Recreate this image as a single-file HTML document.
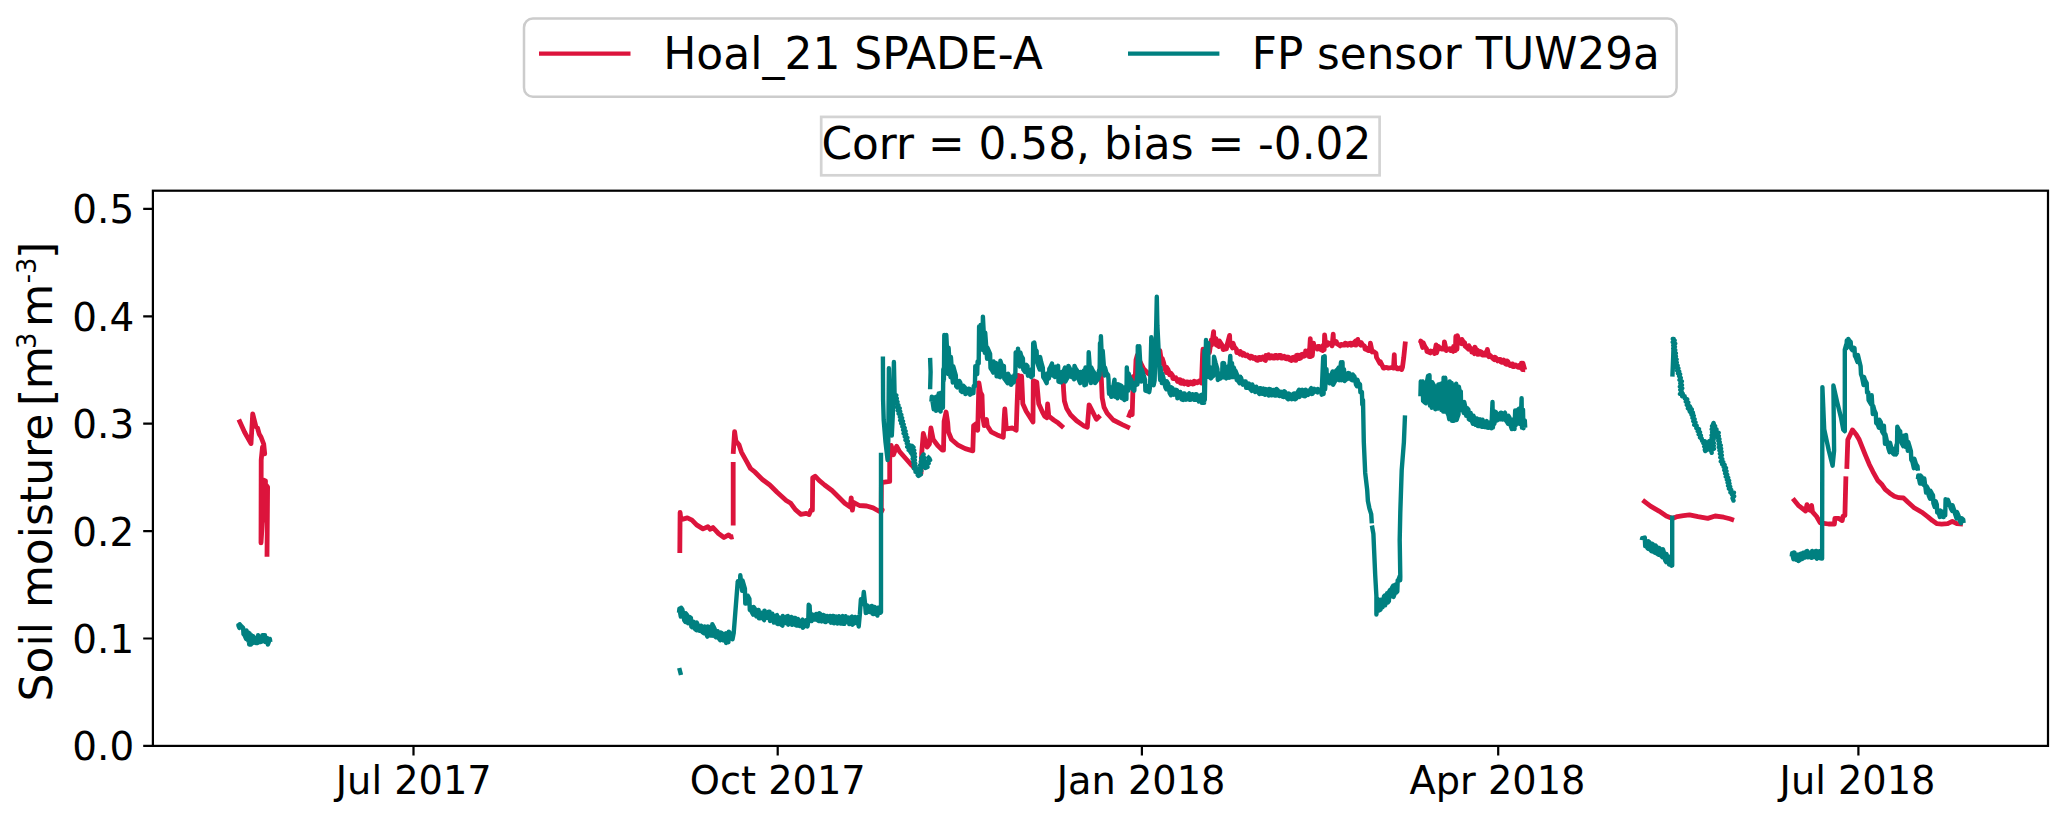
<!DOCTYPE html>
<html lang="en">
<head>
<meta charset="utf-8">
<title>Soil moisture time series</title>
<style>
html,body{margin:0;padding:0;background:#fff;}
body{width:2067px;height:820px;overflow:hidden;}
svg{display:block;}
text{font-family:"DejaVu Sans","Liberation Sans",sans-serif;fill:#000;}
.tk{font-size:38.9px;}
.lg{font-size:44px;}
.sp{stroke:#000;stroke-width:2.22;fill:none;}
.red{stroke:#dc143c;stroke-width:4.8;fill:none;stroke-linejoin:round;stroke-linecap:butt;}
.teal{stroke:#008080;stroke-width:4.4;fill:none;stroke-linejoin:round;stroke-linecap:butt;}
</style>
</head>
<body>
<svg width="2067" height="820" viewBox="0 0 2067 820">
<rect x="0" y="0" width="2067" height="820" fill="#fff"/>

<!-- DATA-START -->
<g id="data" clip-path="url(#axclip)">
<path class="red" d="M238.8 419.6 244.6 432.3 251.0 443.6 252.7 413.8 255.9 426.5 257.5 428.0 259.3 434.3 261.0 437.0 263.7 444.0 264.7 453.8 262.5 447.0 261.2 460.0 261.0 542.9 262.3 523.0 263.2 480.0 265.5 481.0 264.5 520.0 266.0 485.0 267.6 487.0 267.0 556.7 M679.8 553.0 680.1 512.4 680.9 519.8 682.0 519.4 687.4 517.9 692.0 520.1 696.6 524.9 703.0 528.9 707.9 526.7 710.3 529.3 713.0 527.6 718.5 533.5 724.0 537.5 728.6 534.9 731.3 537.1 733.5 536.6 M733.2 525.6 733.2 462.1 M733.2 453.9 734.6 431.6 735.9 441.1 739.0 444.8 741.4 452.1 746.0 460.3 750.5 468.5 755.1 472.2 762.4 479.5 769.8 485.0 777.1 492.3 786.2 500.5 790.8 503.3 795.4 509.7 800.9 514.3 806.3 513.4 809.1 514.6 810.9 510.2 812.4 510.2 812.7 477.7 815.1 476.2 819.1 480.4 824.6 485.0 832.0 490.5 839.3 497.8 844.8 503.3 850.2 507.0 851.2 497.8 852.4 510.2 853.5 502.4 859.4 505.5 866.7 506.0 873.1 507.9 879.5 511.5 882.3 509.7 881.2 512.0 881.4 482.6 884.4 482.1 889.7 481.4 889.7 459.3 891.2 445.5 893.5 454.7 896.6 446.3 899.6 451.6 905.7 458.5 911.8 465.4 917.9 471.5 921.0 473.3 921.7 453.2 923.3 433.4 927.1 447.1 929.4 444.0 930.9 428.0 933.2 439.5 937.7 445.5 942.3 450.1 943.5 450.1 944.1 421.2 946.1 412.0 947.7 422.7 948.4 431.8 951.5 439.5 957.6 444.8 965.2 448.6 972.8 450.9 973.6 425.7 976.6 423.4 977.7 430.3 978.9 383.0 980.4 392.2 982.0 395.2 982.7 416.6 984.2 425.7 986.5 419.6 987.3 425.7 991.1 431.8 997.2 434.9 1003.3 437.2 1004.1 419.6 1004.8 409.0 1006.3 428.8 1012.4 428.0 1016.2 430.3 1017.0 406.7 1018.2 375.5 1019.8 397.6 1020.4 376.2 1021.6 376.2 1022.8 403.7 1026.2 411.3 1033.0 422.0 1033.3 380.8 1036.8 382.3 1038.7 403.7 1043.0 413.2 1044.6 416.2 1046.9 417.7 1047.6 404.0 1048.8 416.2 1053.7 420.0 1058.3 423.1 1063.6 427.7 M1063.2 381.2 1063.6 390.3 1064.4 401.0 1066.7 408.6 1070.5 414.7 1076.6 420.8 1084.2 426.1 1087.3 427.2 1089.1 404.8 1091.8 410.1 1096.4 419.3 1100.2 415.5 M1099.9 375.1 1100.4 364.1 1101.3 378.1 1102.2 397.9 1104.0 407.1 1107.1 413.2 1113.2 420.0 1122.3 424.6 1129.9 428.1 M1128.4 417.7 1130.7 411.6 1132.2 414.7 1133.3 376.6 1135.3 375.8 1136.0 359.8 1137.3 355.2 1140.6 362.9 1143.7 369.0 1148.2 373.5 1152.8 376.6 1154.3 355.2 1155.9 349.1 1159.5 355.7 1159.9 350.7 1161.8 363.3 1162.2 358.3 1163.5 362.3 1165.3 369.7 1166.3 372.4 1166.7 367.5 1168.1 369.8 1169.6 374.9 1171.1 373.4 1172.4 375.1 1172.8 378.5 1174.1 378.5 1175.8 377.8 1177.5 381.4 1178.8 379.7 1180.0 379.6 1180.4 383.1 1182.0 383.4 1183.0 380.7 1184.5 383.9 1186.0 381.8 1187.7 381.9 1188.1 384.6 1189.6 383.8 1190.7 382.0 1192.6 384.0 1193.8 383.9 1194.2 381.2 1196.1 381.7 1197.4 382.8 1199.4 380.8 1201.1 380.4 1201.5 383.1 1202.6 354.1 1203.0 349.2 1204.8 350.1 1205.7 353.2 1207.6 349.3 1209.0 349.2 1209.4 352.6 1211.3 340.0 1211.7 345.0 1213.6 331.6 1214.0 341.9 1215.9 338.5 1216.3 345.0 1217.4 345.4 1218.9 346.5 1219.3 340.8 1221.2 343.7 1222.7 346.1 1223.1 349.6 1224.9 349.0 1226.5 348.8 1226.9 345.3 1227.9 341.8 1229.6 335.4 1230.0 345.0 1231.4 346.0 1232.6 348.0 1233.0 343.1 1234.3 346.7 1236.4 349.2 1236.8 352.6 1238.6 352.6 1239.8 354.1 1240.2 351.4 1242.7 355.1 1243.1 353.2 1244.1 353.7 1245.6 355.8 1247.3 354.9 1248.9 357.0 1250.3 358.1 1250.7 356.2 1252.3 356.6 1253.3 358.4 1255.1 357.5 1256.3 359.9 1257.9 360.4 1258.3 357.7 1259.8 357.4 1260.8 359.5 1262.8 357.1 1263.9 359.4 1265.5 360.4 1265.9 355.4 1266.9 356.1 1268.6 354.7 1269.0 358.1 1270.3 358.0 1271.9 355.9 1273.2 358.1 1274.7 358.1 1275.1 355.4 1276.4 355.5 1277.6 358.1 1279.1 355.5 1280.8 355.4 1281.2 358.1 1282.4 358.2 1284.2 356.3 1285.5 358.7 1286.9 358.9 1287.3 357.0 1288.5 357.2 1289.9 359.8 1291.4 360.4 1291.8 357.7 1293.3 357.2 1294.5 360.1 1296.0 360.4 1296.4 355.4 1298.1 355.1 1299.5 358.6 1300.6 358.1 1301.0 354.7 1302.3 354.2 1303.8 356.3 1305.2 355.8 1305.6 350.9 1307.4 352.1 1308.8 350.1 1309.2 356.6 1310.3 338.7 1310.7 356.6 1311.9 346.3 1312.3 355.8 1313.5 343.2 1314.0 346.7 1315.5 347.1 1317.4 349.0 1317.8 346.3 1319.5 346.4 1321.0 349.8 1322.7 350.5 1323.1 345.5 1324.2 349.7 1324.6 334.9 1325.7 345.2 1326.1 342.5 1327.3 345.2 1327.7 342.5 1329.2 343.4 1331.7 344.8 1332.1 345.9 1333.2 334.1 1333.6 343.6 1334.7 341.0 1335.1 342.1 1336.4 341.7 1336.8 343.6 1338.1 344.3 1340.2 345.9 1340.6 344.8 1341.8 344.3 1343.2 345.1 1344.8 345.2 1345.2 343.2 1346.8 343.5 1347.9 345.1 1349.4 343.4 1350.9 343.2 1351.3 345.2 1352.4 345.0 1354.0 342.7 1355.5 341.0 1355.9 345.2 1357.8 339.4 1358.2 343.6 1359.8 344.3 1360.8 345.2 1361.2 342.5 1362.7 344.9 1364.6 346.3 1365.0 349.0 1366.5 349.6 1368.4 350.5 1368.8 347.8 1370.0 350.5 1370.4 343.2 1372.2 352.0 1372.6 350.9 1373.9 351.8 1376.0 353.2 1376.5 357.4 1378.1 360.1 1379.9 363.5 1380.3 361.5 1381.4 363.9 1382.9 366.9 1383.3 368.0 1384.3 368.0 1385.8 367.4 1387.5 367.6 1387.9 368.0 1389.1 368.0 1391.3 367.6 1393.1 367.6 1393.5 368.0 1394.3 354.7 1394.7 366.5 1395.6 367.6 1396.0 368.0 1396.6 367.6 1397.0 368.8 1398.4 368.9 1400.1 367.9 1401.2 367.6 1401.6 369.6 1402.5 367.1 1403.7 357.9 1405.4 341.5 M1420.4 343.0 1420.8 341.0 1422.7 347.5 1423.1 342.6 1425.0 346.8 1426.5 348.7 1426.9 351.4 1428.5 352.0 1430.3 352.9 1430.7 351.0 1432.9 351.4 1434.1 351.7 1434.5 353.6 1436.1 344.9 1436.5 352.9 1438.7 346.4 1439.1 348.3 1440.6 348.5 1441.7 349.1 1442.1 347.9 1444.0 349.1 1444.4 341.8 1446.3 350.6 1446.7 348.7 1448.0 349.1 1450.1 348.7 1450.5 350.6 1452.1 350.6 1453.2 351.4 1453.6 346.4 1455.4 350.6 1455.8 336.5 1457.0 349.1 1457.4 335.7 1459.3 343.0 1459.7 340.3 1461.5 343.7 1461.9 339.5 1463.4 342.0 1464.6 342.6 1465.0 346.0 1466.3 347.0 1468.4 349.1 1468.8 345.6 1470.1 347.9 1471.4 348.7 1471.8 352.1 1473.4 351.9 1474.5 353.6 1474.9 347.1 1476.3 350.0 1477.5 350.2 1477.9 354.4 1479.4 354.2 1480.6 351.6 1482.1 352.5 1482.5 355.2 1483.9 355.1 1485.9 355.2 1486.3 351.7 1487.0 355.2 1487.4 349.4 1489.0 356.7 1489.4 354.8 1490.6 355.8 1492.8 358.5 1494.3 359.7 1494.7 357.1 1496.1 358.0 1497.6 360.9 1499.3 359.3 1500.4 359.3 1500.8 362.0 1502.1 362.4 1503.8 360.1 1505.4 363.8 1506.5 364.3 1506.9 360.9 1507.9 361.5 1509.9 365.5 1511.5 364.1 1512.6 363.9 1513.0 366.6 1514.3 366.7 1515.8 365.0 1517.6 367.0 1518.7 367.4 1519.1 365.4 1521.0 368.1 1521.4 363.2 1522.5 369.7 1522.9 363.2 1524.8 369.8 1525.2 369.8 M1642.6 500.1 1650.5 506.2 1659.0 511.1 1666.3 516.0 1672.4 518.4 1677.3 516.6 1683.4 515.6 1689.5 514.8 1698.0 516.6 1707.8 518.4 1715.1 516.0 1723.7 517.2 1729.8 518.8 1734.0 520.2 M1792.8 498.6 1798.3 505.3 1805.6 511.0 1807.0 504.6 1808.4 509.1 1809.7 510.1 1811.6 505.5 1812.5 511.9 1816.6 516.5 1820.2 522.9 1823.9 523.3 1828.5 524.0 1834.4 524.0 1834.9 518.3 1838.5 518.3 1842.2 520.6 1843.1 516.0 1844.9 515.5 1845.9 476.4 M1846.8 468.8 1847.8 439.8 1852.4 429.9 1856.2 434.5 1859.3 439.8 1862.3 447.4 1865.4 455.1 1869.2 464.2 1873.0 471.8 1877.6 480.2 1882.1 484.8 1885.2 489.4 1889.8 493.2 1894.3 496.2 1898.9 497.7 1903.5 498.0 1908.0 502.3 1914.1 507.7 1921.8 512.2 1927.9 516.8 1932.4 520.6 1937.0 523.7 1941.6 524.1 1947.7 523.7 1952.3 521.4 1956.8 523.7 1962.9 524.1"/>
<path class="teal" d="M237.9 626.2 238.3 625.2 239.4 628.0 239.8 624.3 241.5 626.3 243.1 627.9 243.5 634.1 244.6 635.4 246.1 639.0 246.5 630.4 248.3 640.8 248.7 632.8 249.2 644.5 249.6 633.4 251.0 644.5 251.4 635.3 252.8 643.0 253.2 636.2 254.3 637.7 256.0 643.0 257.7 643.0 258.1 635.3 259.1 637.1 260.7 642.0 262.0 641.5 262.4 635.3 263.4 635.3 265.0 635.3 265.4 642.1 267.5 638.3 267.9 644.5 269.9 638.9 270.3 642.1 M679.2 668.0 681.0 675.0 M679.0 612.8 679.4 608.7 680.8 616.5 681.2 607.8 682.4 609.5 684.2 620.2 685.4 621.9 685.8 613.3 687.0 614.8 688.1 623.3 689.4 617.0 690.9 617.9 691.3 626.5 692.2 627.2 693.8 621.8 695.0 629.0 696.4 630.2 696.8 622.5 698.0 625.4 699.4 630.8 701.0 625.7 701.9 626.5 702.3 632.0 703.7 633.2 704.6 626.5 706.1 633.6 707.4 636.6 707.8 626.5 708.8 626.9 710.7 635.5 711.9 635.7 712.3 624.3 713.5 626.6 714.7 628.9 715.1 636.6 715.9 637.2 717.7 631.2 718.9 638.4 720.2 640.2 720.6 632.5 721.7 633.0 723.3 640.4 724.3 634.1 725.7 633.4 726.1 643.0 727.2 640.2 728.4 642.1 728.8 631.6 730.6 633.8 732.1 635.3 732.5 639.3 733.7 633.2 737.7 582.0 737.5 585.4 737.9 581.3 739.9 585.4 740.3 575.3 742.1 590.8 742.5 580.4 744.0 585.5 744.9 588.6 745.3 603.6 746.5 603.3 747.8 595.7 749.4 598.7 749.8 610.0 751.0 610.5 753.1 614.6 753.5 606.9 754.8 608.6 756.3 616.4 757.5 610.2 758.6 610.0 759.0 618.3 760.2 618.2 761.8 612.7 762.9 618.4 764.1 620.1 764.5 610.6 765.3 612.2 767.1 617.8 768.6 611.8 769.6 611.8 770.0 621.0 771.1 620.3 772.3 613.6 773.9 622.5 775.3 615.9 776.9 615.1 777.3 623.8 778.2 624.0 779.7 617.6 780.9 624.5 782.4 625.6 782.8 616.0 784.0 618.2 785.5 623.1 786.5 616.5 787.8 616.0 788.2 624.7 789.4 622.8 791.3 616.9 792.2 624.9 793.7 618.0 795.2 617.9 795.6 625.2 796.9 625.6 797.9 618.9 799.7 626.0 801.6 620.6 802.5 619.7 802.9 627.8 804.2 626.5 805.9 620.3 807.1 620.6 807.5 626.5 808.2 622.2 808.7 604.8 809.6 605.7 810.4 620.4 811.6 621.0 812.0 614.2 813.6 615.3 815.0 619.6 816.1 614.0 817.4 620.1 818.9 621.0 819.3 613.3 820.2 613.7 821.7 621.4 823.2 614.9 824.4 615.5 824.8 621.9 825.6 622.1 827.0 615.9 828.2 621.0 829.9 615.9 831.0 622.7 832.4 616.0 833.6 616.0 834.0 623.4 835.3 621.3 836.4 616.6 837.4 623.5 838.9 616.2 840.5 623.6 841.3 618.1 842.7 616.0 843.1 623.8 844.3 623.9 845.6 616.2 846.9 621.9 848.4 617.5 849.3 624.1 850.5 617.9 851.9 616.6 852.3 624.7 853.7 623.6 855.1 616.9 857.1 623.4 858.3 617.0 858.7 626.5 859.8 614.9 860.9 599.3 862.7 603.9 863.8 592.0 864.9 602.1 865.8 613.0 866.5 612.8 866.9 605.1 868.3 606.8 869.7 612.0 870.6 606.3 872.0 606.0 872.4 613.7 873.5 614.1 874.6 607.0 876.1 613.9 877.5 615.5 877.9 607.8 879.4 607.7 880.2 606.9 880.6 612.8 881.0 612.0 881.0 452.8 M882.9 356.4 883.1 400.0 883.7 420.0 885.5 442.0 887.6 460.0 888.3 440.0 888.9 368.3 889.8 410.0 891.8 435.6 892.8 415.0 893.9 362.0 894.6 394.0 893.4 394.3 896.3 395.3 894.2 397.6 896.8 398.6 895.5 400.7 897.5 401.9 896.4 403.9 898.4 405.1 897.0 407.2 899.7 408.3 897.7 410.5 900.2 411.6 898.7 413.7 901.3 414.8 899.9 416.9 902.1 418.0 900.2 420.3 903.0 421.3 901.2 423.5 903.7 424.6 902.4 426.7 904.7 427.9 903.1 430.0 905.6 431.2 903.6 433.4 906.2 434.5 904.8 436.6 907.4 437.7 905.5 440.1 907.8 441.2 906.8 443.3 908.7 444.6 907.2 446.8 910.1 447.8 908.7 450.0 911.0 451.2 911.5 453.6 909.9 451.0 912.3 449.8 911.1 447.3 912.0 445.9 913.5 447.3 911.7 449.1 914.2 450.5 912.3 452.3 914.7 453.7 912.6 455.5 915.0 456.9 912.7 458.8 914.8 460.2 913.3 461.9 915.2 463.4 913.6 465.2 915.6 466.6 913.9 468.4 915.6 469.3 915.5 471.9 918.2 472.2 917.6 475.0 918.5 475.9 920.8 474.4 918.8 472.3 921.2 470.8 919.2 468.8 921.7 467.3 920.0 465.3 922.2 463.8 920.8 461.7 922.7 460.2 921.2 458.2 922.9 456.6 923.6 454.4 922.2 456.6 924.4 457.9 922.8 460.1 925.4 461.3 924.0 463.5 926.3 464.7 924.8 467.0 925.2 468.0 927.5 466.9 926.4 464.6 928.7 463.4 927.7 461.2 930.1 460.0 928.6 457.6 930.1 456.2 M930.1 357.9 930.6 372.0 930.1 389.2 M931.4 401.6 931.8 396.6 933.7 409.2 934.1 397.4 936.0 410.7 936.4 396.6 938.3 410.0 938.7 393.5 940.6 411.5 941.0 392.8 942.9 407.7 943.3 369.2 943.9 380.2 944.3 334.9 945.9 369.6 946.3 334.9 948.2 374.1 948.6 347.8 950.5 377.2 950.9 357.0 952.8 382.5 953.2 366.1 954.6 371.0 955.8 375.3 956.2 386.3 957.3 387.4 959.3 380.9 960.4 382.9 960.8 390.9 962.2 392.0 963.3 385.7 965.0 387.5 965.4 394.0 966.8 393.3 968.4 388.7 969.6 389.0 970.0 394.7 971.7 393.5 973.4 393.2 973.8 385.9 974.9 386.3 975.3 366.1 977.2 374.1 977.6 361.5 978.7 363.5 979.1 326.5 980.2 349.7 980.6 325.0 982.5 349.7 982.9 316.6 984.8 352.8 985.2 332.6 987.1 358.9 987.5 347.8 988.8 350.9 990.1 353.9 990.5 368.0 992.2 370.6 993.2 372.6 993.6 361.5 995.3 365.8 996.2 363.1 996.6 376.4 997.9 375.8 1000.0 377.2 1000.4 360.8 1002.5 367.9 1003.9 366.1 1004.3 378.7 1005.9 380.7 1007.7 383.3 1008.1 373.7 1009.2 377.4 1010.7 376.8 1011.1 384.8 1012.2 383.0 1013.8 382.5 1014.2 375.3 1015.3 377.2 1015.7 352.4 1017.6 365.0 1018.0 348.6 1019.9 366.5 1020.3 352.4 1021.3 356.0 1022.9 358.5 1023.3 369.6 1025.0 372.0 1026.4 364.8 1027.5 366.1 1027.9 375.7 1030.0 375.3 1031.3 377.2 1031.7 369.2 1032.8 375.7 1033.2 343.2 1033.9 358.9 1034.3 342.5 1035.3 349.5 1036.6 350.9 1037.0 361.9 1038.3 365.7 1039.7 369.6 1040.1 357.0 1041.1 361.7 1042.8 367.5 1043.2 377.0 1044.9 379.7 1046.7 383.1 1047.1 373.5 1048.9 378.5 1049.3 369.0 1050.4 367.2 1052.0 363.6 1052.4 375.5 1053.6 373.8 1055.0 377.0 1055.4 366.7 1056.4 368.5 1058.1 365.9 1058.5 381.6 1060.1 382.0 1061.1 382.3 1061.5 372.0 1063.7 371.2 1065.0 367.5 1065.4 381.6 1067.0 378.5 1068.0 377.0 1068.4 365.9 1069.6 368.1 1071.0 369.7 1071.5 377.0 1073.2 377.3 1074.1 379.3 1074.5 365.9 1075.7 368.6 1077.1 370.5 1077.5 377.0 1078.7 379.7 1080.2 383.1 1080.6 372.0 1081.9 374.0 1084.0 370.5 1084.4 385.4 1085.5 367.5 1085.9 384.6 1087.0 376.8 1088.3 380.0 1088.7 352.2 1090.9 383.1 1091.3 367.5 1092.7 370.4 1094.7 373.5 1095.1 383.1 1096.8 380.7 1098.5 378.5 1098.9 370.5 1099.6 375.5 1100.0 343.1 1100.5 363.3 1100.9 336.2 1102.3 369.4 1102.7 350.7 1104.6 375.5 1105.0 367.5 1106.4 372.7 1108.1 375.1 1108.5 379.3 1108.7 387.3 1109.1 393.8 1110.5 393.9 1111.4 396.8 1111.8 387.3 1113.3 386.6 1114.5 379.6 1114.9 396.8 1116.6 396.4 1117.5 398.3 1117.9 384.2 1119.9 385.1 1121.4 385.7 1121.8 398.3 1123.3 398.4 1124.4 399.9 1124.8 387.3 1126.4 399.1 1126.8 367.5 1128.2 390.7 1128.6 373.5 1130.1 378.5 1131.3 379.6 1131.7 387.7 1132.8 389.0 1134.3 390.7 1134.7 382.7 1136.6 384.6 1137.0 376.6 1137.4 384.6 1137.8 346.1 1138.9 375.5 1139.3 346.1 1141.2 381.6 1141.6 369.0 1143.7 375.5 1145.0 379.6 1145.4 390.7 1147.1 391.2 1148.8 385.7 1149.2 392.2 1150.1 386.7 1151.3 337.3 1152.5 353.2 1153.6 385.2 1154.6 380.6 1156.2 325.7 1156.8 296.8 1157.4 325.7 1158.6 350.1 1159.7 373.0 1160.2 380.0 1160.6 367.5 1161.8 383.1 1162.2 373.5 1163.3 377.3 1165.4 387.5 1166.3 389.2 1166.7 381.2 1168.2 383.6 1169.6 392.9 1170.9 395.3 1171.3 387.3 1172.4 388.0 1173.9 394.7 1175.7 389.7 1177.0 390.3 1177.4 398.3 1179.0 396.5 1180.2 391.9 1181.5 399.4 1183.1 399.9 1183.5 393.4 1184.7 393.4 1186.1 399.7 1187.9 394.9 1189.2 393.4 1189.6 399.9 1191.1 399.5 1192.4 394.2 1193.9 399.7 1195.3 399.9 1195.7 394.1 1196.7 394.4 1198.9 401.5 1200.1 395.6 1201.4 394.9 1201.8 402.9 1203.7 394.9 1204.1 402.9 1204.4 350.7 1204.8 399.9 1206.0 340.0 1206.4 369.4 1208.2 343.1 1208.6 377.0 1210.5 367.5 1210.9 378.5 1212.5 376.5 1213.6 375.5 1214.0 356.8 1215.5 362.5 1217.4 369.0 1217.8 380.0 1219.0 378.8 1220.4 378.5 1220.8 373.5 1222.7 375.5 1223.1 362.9 1224.8 369.7 1225.8 370.5 1226.2 378.5 1228.1 367.5 1228.5 377.0 1230.3 356.0 1230.7 369.4 1232.4 373.0 1233.4 375.5 1233.8 367.5 1234.8 370.9 1236.4 373.5 1236.8 380.0 1238.7 381.4 1239.8 383.1 1240.2 376.6 1222.1 377.2 1222.5 363.1 1223.6 374.1 1224.0 363.1 1225.9 377.2 1226.3 369.2 1227.5 367.6 1228.6 366.1 1229.0 377.9 1230.2 356.2 1230.6 377.2 1232.0 363.1 1232.4 372.6 1233.6 372.7 1235.0 377.2 1235.4 370.7 1237.0 374.5 1238.7 381.6 1239.6 383.3 1240.0 376.8 1241.0 377.7 1242.9 384.7 1244.7 381.5 1245.7 381.4 1246.1 387.9 1247.6 387.5 1248.9 383.5 1250.1 388.8 1251.8 390.9 1252.2 384.4 1253.3 386.7 1255.2 392.0 1256.3 386.7 1258.2 392.5 1259.4 394.0 1259.8 388.2 1260.7 388.3 1262.3 393.8 1263.5 388.6 1264.9 394.8 1266.0 389.1 1267.8 394.5 1268.6 395.5 1269.0 389.0 1270.6 389.4 1271.6 395.4 1273.7 389.9 1274.7 395.5 1276.2 395.5 1276.6 389.0 1277.9 390.3 1279.4 396.0 1281.1 391.9 1282.3 396.7 1283.8 397.0 1284.2 391.3 1285.4 392.3 1287.2 398.5 1288.4 399.3 1288.8 393.5 1290.3 394.5 1291.7 399.2 1293.5 393.7 1294.5 393.5 1294.9 399.3 1296.5 398.3 1297.5 392.3 1299.1 389.7 1299.5 397.0 1300.6 394.9 1302.3 389.8 1303.6 396.1 1305.2 396.2 1305.6 389.7 1307.0 391.0 1308.1 394.9 1309.7 390.3 1311.3 388.2 1311.7 394.0 1312.7 393.6 1314.2 388.8 1316.3 391.8 1317.4 392.4 1317.8 389.0 1319.7 390.4 1321.2 389.0 1321.6 394.7 1323.2 357.0 1323.6 394.0 1324.7 356.2 1325.1 389.4 1326.5 369.2 1326.9 380.2 1328.6 381.8 1329.6 383.3 1330.0 375.3 1331.0 376.3 1332.6 371.4 1333.0 384.8 1334.5 382.2 1335.7 380.2 1336.1 370.7 1337.5 369.5 1338.7 367.6 1339.1 380.2 1341.0 362.3 1341.4 380.2 1342.5 362.3 1342.9 378.7 1344.0 369.2 1344.4 381.0 1346.0 379.6 1347.8 378.7 1348.2 373.0 1349.3 373.4 1350.9 379.5 1352.4 380.2 1352.8 374.5 1354.5 376.7 1356.0 384.7 1357.0 386.3 1357.4 379.8 1358.6 383.4 1360.0 384.4 1360.4 392.4 1361.9 392.0 1362.3 404.6 1363.0 400.0 1363.8 442.0 1365.2 472.9 1367.2 490.0 1367.9 501.0 1369.4 508.3 1371.2 514.1 1371.8 523.3 M1371.9 525.5 1373.4 533.9 1374.1 550.0 1375.2 575.0 1376.4 596.2 1376.4 614.5 1376.5 613.8 1376.9 598.3 1378.2 599.6 1379.1 610.5 1380.5 609.6 1380.9 599.7 1381.6 601.3 1382.6 607.3 1384.0 596.4 1384.7 595.5 1385.1 605.4 1385.9 602.4 1387.1 593.3 1387.8 602.5 1388.9 601.2 1389.3 591.3 1390.3 589.8 1391.3 596.4 1392.1 587.5 1393.1 585.7 1393.5 597.0 1394.6 594.0 1395.2 584.8 1396.3 592.6 1397.3 591.4 1397.7 580.1 1398.4 580.0 1399.8 575.9 1400.2 580.2 1400.3 576.6 1399.7 540.2 1400.3 512.1 1401.7 470.1 1403.9 442.1 1405.0 415.4 M1420.4 396.3 1420.8 381.4 1422.0 383.6 1422.7 381.4 1423.1 400.9 1424.7 402.3 1425.7 403.2 1426.1 383.7 1426.9 381.9 1428.0 376.1 1428.4 402.4 1429.5 375.3 1429.9 405.5 1431.1 399.4 1431.8 407.8 1432.2 382.2 1433.5 384.8 1434.9 386.8 1435.3 409.3 1436.5 407.2 1437.9 408.5 1438.3 384.5 1440.0 384.3 1441.0 383.7 1441.4 410.0 1442.5 405.9 1443.2 411.6 1443.6 377.6 1444.8 411.6 1445.2 377.6 1446.3 389.0 1447.1 388.3 1447.5 413.1 1448.5 415.3 1449.3 419.2 1449.7 381.4 1450.6 383.6 1451.6 383.0 1452.0 420.7 1453.1 420.7 1453.9 420.7 1454.3 385.3 1455.1 390.7 1456.2 383.7 1456.6 420.0 1457.4 417.6 1458.5 414.6 1458.9 386.8 1459.6 390.8 1460.8 391.4 1461.2 410.0 1462.4 407.1 1463.8 413.1 1464.2 402.0 1465.4 407.4 1466.2 415.9 1467.2 408.1 1468.4 409.6 1468.8 419.2 1469.9 419.9 1470.7 413.0 1472.1 421.6 1473.0 423.8 1473.4 415.7 1474.5 418.3 1475.6 424.9 1476.8 418.4 1477.5 418.8 1477.9 426.1 1478.9 425.9 1480.2 419.3 1481.0 426.5 1482.1 426.8 1482.5 419.6 1483.3 421.5 1484.6 427.0 1485.7 422.7 1486.7 421.1 1487.1 427.6 1488.3 427.7 1490.0 422.5 1491.0 421.8 1491.4 428.3 1492.5 402.0 1492.9 427.6 1494.0 411.2 1494.4 423.8 1495.8 411.9 1496.2 420.7 1497.5 420.2 1498.3 413.9 1499.7 417.8 1500.4 419.2 1500.8 412.7 1501.5 412.9 1502.7 419.5 1504.3 413.4 1505.0 412.7 1505.4 420.0 1507.0 422.0 1508.0 423.8 1508.4 415.7 1509.7 418.1 1510.6 425.6 1511.8 429.1 1512.2 420.3 1513.4 419.4 1514.1 418.8 1514.5 429.1 1515.2 410.4 1515.6 425.3 1516.6 423.0 1517.6 410.1 1518.7 408.9 1519.1 423.8 1520.2 409.6 1520.6 423.8 1521.6 398.2 1522.0 427.6 1523.0 409.6 1523.4 428.3 1524.8 420.3 1525.2 427.6 M1641.8 540.1 1642.2 538.2 1643.2 538.0 1644.8 537.6 1645.2 546.2 1646.3 546.4 1647.8 548.6 1648.2 541.2 1649.4 542.2 1650.2 549.8 1651.5 551.1 1651.9 543.7 1653.0 544.4 1654.0 552.2 1655.2 552.9 1655.6 545.5 1656.8 547.1 1657.5 554.0 1658.8 554.7 1659.2 547.9 1660.2 549.0 1661.5 556.4 1662.5 557.2 1662.9 549.2 1663.7 551.7 1665.1 560.2 1666.1 562.1 1666.5 554.0 1667.4 557.3 1668.6 556.5 1669.0 564.5 1669.9 564.4 1671.0 560.1 1671.4 565.7 1672.2 565.4 1672.2 515.4 M1672.4 376.7 1673.2 356.6 1673.7 338.9 1672.8 339.0 1674.6 340.5 1672.8 342.2 1675.2 343.6 1673.3 345.4 1674.9 346.9 1673.3 348.6 1675.2 350.1 1673.9 351.8 1675.8 353.3 1673.9 355.0 1675.9 356.4 1674.4 358.3 1676.6 359.4 1674.9 361.3 1676.8 362.5 1675.8 364.3 1677.6 365.5 1676.0 367.4 1678.4 368.4 1677.2 370.5 1679.2 371.4 1678.0 373.4 1680.1 374.3 1679.1 376.2 1680.8 377.8 1679.5 379.9 1681.8 381.4 1680.3 383.4 1681.9 385.0 1679.9 386.7 1682.2 388.3 1680.3 389.9 1681.7 391.5 1680.0 393.9 1682.8 393.7 1682.2 396.3 1684.7 396.3 1684.8 398.4 1687.2 399.4 1685.8 401.6 1688.3 402.6 1686.8 404.9 1689.1 406.0 1687.9 408.3 1690.3 409.0 1689.7 411.2 1692.2 411.9 1693.0 413.5 1690.7 412.7 1691.4 410.6 1689.3 409.7 1690.4 407.5 1688.1 406.7 1687.7 405.2 1689.8 406.2 1689.0 408.6 1691.8 409.3 1690.8 411.5 1692.8 412.5 1691.6 414.7 1693.8 415.7 1692.5 417.8 1694.6 419.1 1693.3 421.2 1695.5 422.5 1694.2 424.9 1696.7 425.6 1696.3 428.1 1699.0 429.0 1697.7 431.1 1700.0 432.2 1698.7 434.4 1700.9 435.5 1700.0 437.6 1701.7 438.3 1702.1 440.9 1704.9 441.3 1703.4 443.3 1705.8 444.5 1704.2 446.5 1706.1 447.8 1704.8 449.8 1705.3 451.1 1707.0 449.8 1706.0 447.8 1707.8 446.5 1706.8 444.5 1708.9 443.3 1709.0 441.3 1707.8 443.2 1709.7 444.5 1708.4 446.4 1710.8 447.5 1709.3 449.5 1711.1 450.7 1711.7 452.8 1711.0 450.2 1713.9 448.8 1712.0 447.3 1713.8 445.8 1711.5 444.2 1713.8 442.8 1711.7 441.2 1713.5 439.7 1711.6 438.2 1713.7 436.7 1711.6 435.2 1714.0 433.7 1712.1 432.2 1713.9 430.7 1711.7 429.2 1713.5 427.7 1712.1 426.2 1714.0 424.7 1713.6 422.9 1712.6 425.3 1715.1 426.1 1714.1 428.5 1716.5 429.4 1715.9 431.7 1718.7 432.7 1717.1 434.6 1718.8 435.9 1717.5 437.8 1719.4 439.1 1718.3 440.9 1719.8 442.2 1718.7 444.0 1720.7 445.4 1718.8 447.3 1721.1 448.6 1719.5 450.5 1721.5 451.9 1719.9 453.8 1721.8 455.3 1720.3 457.5 1722.3 459.0 1720.8 461.4 1723.3 462.1 1722.2 464.3 1724.7 464.9 1723.7 467.1 1726.0 468.0 1724.3 470.2 1726.5 471.3 1725.1 473.4 1727.2 474.6 1725.8 476.7 1728.2 477.8 1726.9 479.7 1729.1 480.7 1727.6 482.6 1729.5 483.7 1728.1 485.7 1730.2 486.7 1729.0 488.7 1731.2 489.7 1730.4 492.3 1734.0 492.6 1732.0 494.6 1734.1 496.3 1732.5 498.2 1733.5 500.6 1732.8 500.1 M1791.7 556.5 1792.1 553.3 1793.5 559.2 1793.9 552.4 1794.6 552.9 1796.1 559.8 1797.2 555.7 1798.1 554.7 1798.5 561.0 1799.2 560.5 1800.7 553.7 1801.4 559.2 1802.7 558.7 1803.1 552.8 1803.8 552.7 1805.0 557.5 1806.3 551.5 1807.2 551.0 1807.6 557.4 1808.7 557.0 1809.5 552.7 1810.7 557.6 1811.8 557.8 1812.2 551.0 1812.9 551.9 1814.5 557.0 1815.4 551.2 1816.4 551.0 1816.8 558.7 1817.5 557.7 1819.1 551.3 1820.0 551.0 1820.4 558.3 1822.1 558.5 1822.4 387.1 1824.2 429.1 1828.8 450.5 1832.6 465.7 1834.1 450.5 1833.4 385.5 1837.2 402.3 1841.0 417.6 1843.3 429.8 1844.8 431.3 1844.8 349.7 1846.3 344.4 1846.4 348.4 1846.8 340.4 1847.9 346.9 1848.3 338.9 1849.6 340.9 1850.7 341.9 1851.1 348.4 1852.4 350.3 1853.3 347.5 1854.5 348.0 1854.9 356.0 1855.9 357.7 1857.5 362.1 1857.9 354.9 1859.2 360.4 1860.6 366.3 1861.0 374.3 1862.0 377.0 1863.6 385.0 1864.0 377.0 1865.0 380.1 1866.7 383.1 1867.1 392.6 1868.2 392.2 1868.6 400.2 1870.3 403.0 1871.3 404.8 1871.7 395.3 1872.8 414.0 1873.2 405.9 1874.3 410.1 1875.8 413.5 1876.2 423.1 1877.6 424.3 1878.9 427.7 1879.3 419.6 1880.8 422.1 1882.0 431.3 1883.5 433.8 1883.9 425.7 1885.0 443.8 1885.4 434.3 1886.4 438.7 1888.4 448.3 1889.6 452.2 1890.0 442.7 1890.9 446.0 1893.0 453.4 1894.1 454.5 1894.5 448.8 1896.0 454.5 1896.4 445.0 1896.9 453.0 1897.3 426.7 1899.0 430.3 1900.2 431.2 1900.6 440.8 1901.7 443.1 1903.3 446.1 1903.7 435.8 1905.6 446.9 1906.0 435.0 1907.8 450.7 1908.2 441.9 1909.4 445.9 1910.9 451.0 1911.3 459.8 1912.5 462.1 1913.9 468.2 1914.3 458.7 1916.1 464.3 1917.5 466.3 1917.9 470.7 M1917.9 479.2 1918.3 475.4 1920.0 483.5 1920.4 475.4 1921.6 476.7 1922.8 484.1 1923.9 485.0 1924.3 478.5 1926.1 492.6 1926.5 486.1 1927.8 488.4 1928.7 495.5 1930.0 498.7 1930.4 490.7 1932.0 493.6 1933.0 495.3 1933.4 503.3 1934.7 506.9 1935.6 501.1 1936.8 504.4 1937.2 512.4 1938.7 513.1 1939.9 517.0 1940.3 510.5 1941.5 511.3 1942.8 516.8 1943.7 517.0 1944.1 512.0 1945.2 515.5 1945.6 499.1 1947.5 504.8 1947.9 499.8 1949.0 502.7 1950.8 508.2 1952.1 510.9 1952.5 505.2 1953.9 509.4 1955.3 514.6 1956.6 518.5 1957.0 512.0 1958.5 515.6 1959.8 520.7 1961.2 523.1 1961.6 518.1 1963.2 519.6 1963.6 523.1"/>
</g>
<!-- DATA-END -->
<defs><clipPath id="axclip"><rect x="152.9" y="190.7" width="1895.1" height="555.2"/></clipPath></defs>

<!-- axes frame -->
<rect class="sp" x="152.9" y="190.7" width="1895.1" height="555.2" stroke-linejoin="miter"/>

<!-- y ticks -->
<g class="sp">
<path d="M143.2 745.9H152.9M143.2 638.5H152.9M143.2 531.1H152.9M143.2 423.7H152.9M143.2 316.3H152.9M143.2 208.9H152.9"/>
<path d="M413.5 745.9V755.6M777.7 745.9V755.6M1141.9 745.9V755.6M1498.2 745.9V755.6M1858.4 745.9V755.6"/>
</g>
<g class="tk" text-anchor="end">
<text x="134.2" y="760.4">0.0</text>
<text x="134.2" y="653.0">0.1</text>
<text x="134.2" y="545.6">0.2</text>
<text x="134.2" y="438.2">0.3</text>
<text x="134.2" y="330.8">0.4</text>
<text x="134.2" y="223.4">0.5</text>
</g>
<g class="tk" text-anchor="end">
<text x="491.7" y="794.2" textLength="155.9" lengthAdjust="spacingAndGlyphs">Jul 2017</text>
<text x="865.7" y="794.2" textLength="175.9" lengthAdjust="spacingAndGlyphs">Oct 2017</text>
<text x="1225.4" y="794.2" textLength="168.7" lengthAdjust="spacingAndGlyphs">Jan 2018</text>
<text x="1585.4" y="794.2" textLength="175.9" lengthAdjust="spacingAndGlyphs">Apr 2018</text>
<text x="1935.5" y="794.2" textLength="155.9" lengthAdjust="spacingAndGlyphs">Jul 2018</text>
</g>

<!-- y label -->
<text id="ylab" style="font-size:44.4px" transform="translate(52.3 700) rotate(-90)"><tspan x="-1.5" style="font-size:44.05px">Soil moisture</tspan><tspan x="294">[</tspan><tspan x="310.7">m</tspan><tspan x="351.1" dy="-16.8" style="font-size:25.7px">3</tspan><tspan x="373" dy="16.8">m</tspan><tspan x="416.7" dy="-16.8" style="font-size:25.7px">-3</tspan><tspan x="441" dy="16.8">]</tspan></text>

<!-- legend -->
<rect x="524" y="18.5" width="1152.6" height="78.2" rx="8.9" ry="8.9" fill="#fff" stroke="#cccccc" stroke-width="2.5"/>
<path class="red" style="stroke-width:4.17" d="M539 53.7H630.5"/>
<text class="lg" x="663.2" y="69.3">Hoal_21 SPADE-A</text>
<path class="teal" style="stroke-width:4.17" d="M1128 53.7H1219.4"/>
<text class="lg" x="1251.8" y="69.3" textLength="407.9" lengthAdjust="spacingAndGlyphs">FP sensor TUW29a</text>

<!-- title -->
<rect x="821.2" y="116.9" width="558.4" height="58.4" fill="#fff" stroke="#d3d3d3" stroke-width="2.7"/>
<text class="lg" x="821.5" y="158.5" textLength="549.8" lengthAdjust="spacingAndGlyphs">Corr = 0.58, bias = -0.02</text>
</svg>
</body>
</html>
